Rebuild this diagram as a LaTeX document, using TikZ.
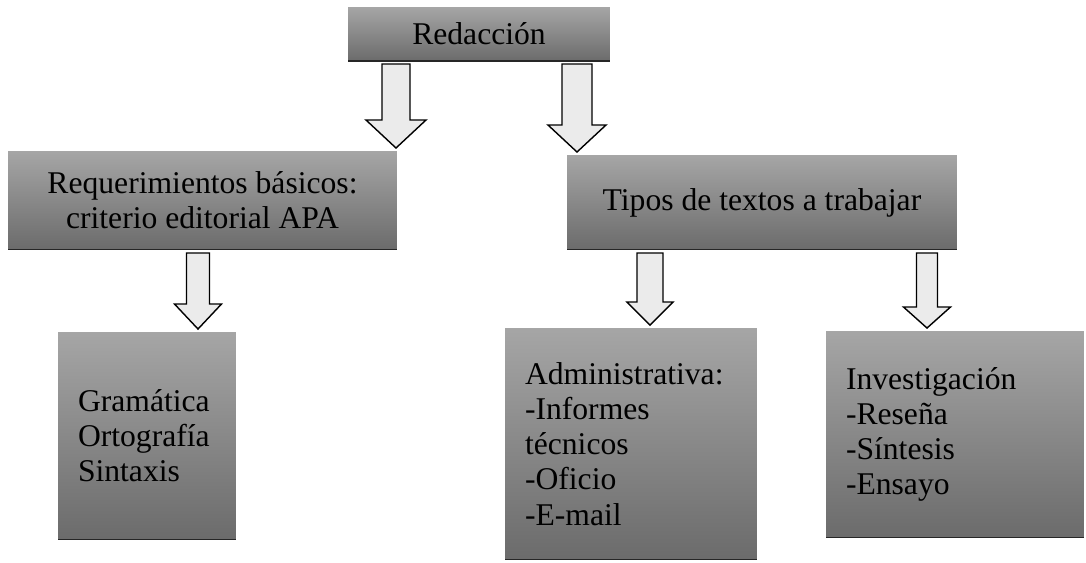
\documentclass[tikz,border=0pt]{standalone}
\usepackage{fontspec}
\setmainfont{Liberation Serif}
\usetikzlibrary{calc}
\tikzset{my box/.style={minimum width=#1,inner sep=0pt,outer sep=0pt,align=center,font=\fontsize{18}{20}\selectfont,top color=black!35,bottom color=black!58,path picture={\draw[line width=1.5pt,black!85] (path picture bounding box.south west) -- (path picture bounding box.south east);}},
list box/.style={my box=#1,align=left,inner xsep=0.4cm},
my arrow/.style={draw=black,fill=black!8,line width=0.8pt,line join=miter}}
% block arrow: from, to, shaft half width, head half width, head length
\newcommand{\bigarrow}[5]{%
\draw[my arrow] let \p1=(#1), \p2=(#2) in
 (\x1-#3,\y1-0.06cm) -- (\x1+#3,\y1-0.06cm) -- (\x1+#3,\y2+#5+0.06cm) -- (\x1+#4,\y2+#5+0.06cm)
 -- (\x1,\y2+0.06cm) -- (\x1-#4,\y2+#5+0.06cm) -- (\x1-#3,\y2+#5+0.06cm) -- cycle;}

\begin{document}
\begin{tikzpicture}[x=0.02cm,y=-0.02cm]
\useasboundingbox (0,0) rectangle (1086,562);
\node[my box=5.24cm,minimum height=1.08cm] (red) at (479,34) {Redacción};
\node[my box=7.78cm,minimum height=1.98cm] (req) at (202.5,200.5) {Requerimientos básicos:\\criterio editorial APA};
\node[my box=7.8cm,minimum height=1.9cm] (tipos) at (762,202.5) {Tipos de textos a trabajar};
\node[list box=3.56cm,text width=2.76cm,minimum height=4.16cm] (gram) at (147,436) {Gramática\\Ortografía\\Sintaxis};
\node[list box=5.04cm,text width=4.24cm,minimum height=4.64cm] (admin) at (631,444) {Administrativa:\\-Informes\\técnicos\\-Oficio\\-E-mail};
\node[list box=5.16cm,text width=4.36cm,minimum height=4.14cm] (inv) at (955,434.5) {Investigación\\-Reseña\\-Síntesis\\-Ensayo};
% arrow columns
\coordinate (c1) at (396,0);
\coordinate (c2) at (577,0);
\coordinate (c3) at (198,0);
\coordinate (c4) at (650,0);
\coordinate (c5) at (927,0);
\bigarrow{red.south -| c1}{req.north -| c1}{0.28cm}{0.6cm}{0.56cm}
\bigarrow{red.south -| c2}{tipos.north -| c2}{0.3cm}{0.58cm}{0.54cm}
\bigarrow{req.south -| c3}{gram.north -| c3}{0.23cm}{0.47cm}{0.5cm}
\bigarrow{tipos.south -| c4}{admin.north -| c4}{0.26cm}{0.46cm}{0.46cm}
\bigarrow{tipos.south -| c5}{inv.north -| c5}{0.21cm}{0.47cm}{0.42cm}
\end{tikzpicture}
\end{document}
